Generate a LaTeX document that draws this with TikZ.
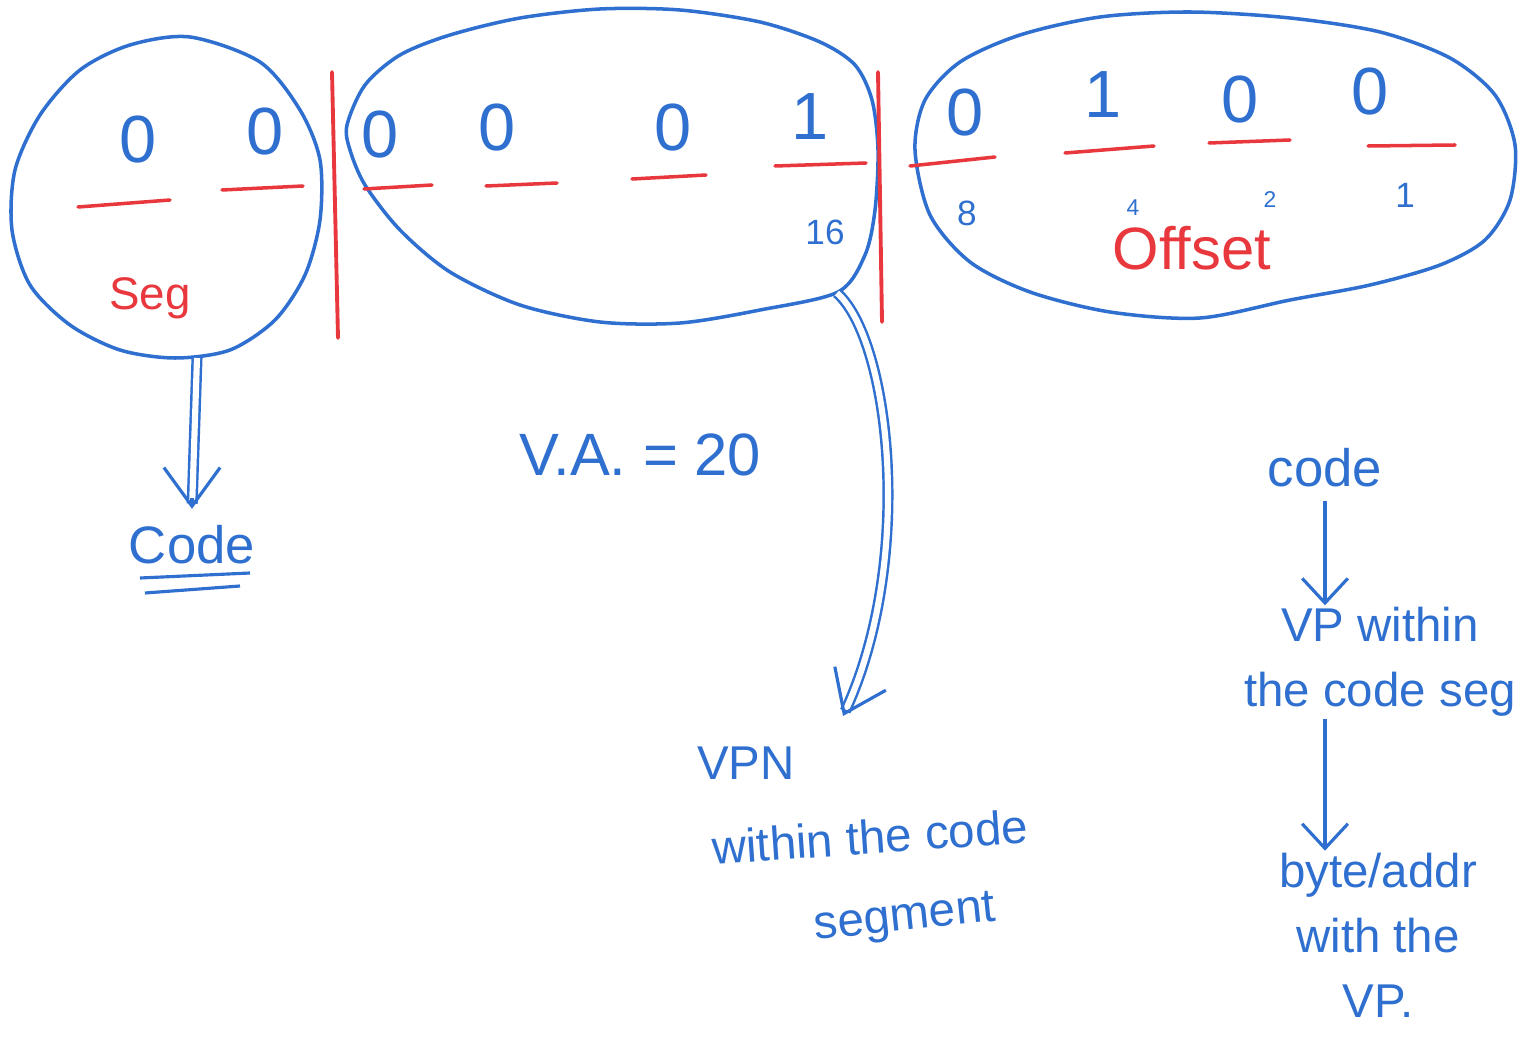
\documentclass[tikz,border=0pt]{standalone}
\usepackage{fontspec}
\setmainfont{Liberation Sans}
\usepackage{xcolor}
\usepackage{tikz}
\usetikzlibrary{calc, positioning, arrows.meta}
\definecolor{penblue}{HTML}{2E6FCF}
\definecolor{penred}{HTML}{E8383D}
\newcommand{\fsBit}{\fontsize{38}{44}\selectfont}
\newcommand{\fsBig}{\fontsize{34}{40}\selectfont}
\newcommand{\fsNote}{\fontsize{27}{37}\selectfont}
\newcommand{\fsLbl}{\fontsize{20}{24}\selectfont}
\newcommand{\fsTiny}{\fontsize{13}{15}\selectfont}

\begin{document}
\begin{tikzpicture}[x=0.02cm, y=-0.02cm,
    blob/.style={penblue, line width=2pt},
    blank/.style={penred, line width=2pt, line cap=round},
    divider/.style={penred, line width=2.2pt, line cap=round},
    digit/.style={font=\fsBit, text=penblue},
    note/.style={font=\fsNote, text=penblue, align=center, inner sep=1pt},
    dblline/.style={penblue, double=white, double distance=3.5pt, line width=1.4pt,
      shorten >=3pt},
    bigtip/.style={penblue, line width=1.8pt, -{Straight Barb[length=22pt, width=32pt]}},
    onearrow/.style={penblue, line width=1.8pt, -{Straight Barb[length=14pt, width=26pt]}}]
  \useasboundingbox (0,0) rectangle (1527,1057);
  % segment / page / offset groups
  \draw[blob] plot[smooth cycle] coordinates {(190,37) (130,45) (80,70) (40,115) (15,170)
    (12,230) (30,285) (70,325) (120,350) (175,358) (230,350) (275,320) (305,275) (320,220)
    (320,160) (300,110) (260,62)};
  \draw[blob] plot[smooth cycle] coordinates {(347,125) (365,85) (400,55) (450,35) (520,18)
    (600,9) (680,10) (760,22) (820,42) (855,65) (872,100) (878,150) (875,210) (865,255)
    (838,292) (760,310) (680,323) (600,322) (520,305) (450,272) (400,230) (365,185) (350,150)};
  \draw[blob] plot[smooth cycle] coordinates {(915,150) (925,100) (960,62) (1020,35) (1100,17)
    (1190,12) (1290,18) (1380,32) (1450,58) (1495,95) (1515,145) (1510,200) (1485,240)
    (1440,265) (1370,285) (1290,300) (1200,318) (1110,312) (1030,292) (970,262) (930,215)};
  \draw[divider] (332,72) -- (338,338);
  \draw[divider] (878,72) -- (882,322);
  \foreach \xa/\ya/\xb/\yb in {78/207/170/200, 222/190/303/186, 364/189/432/185, 486/186/557/183,
      632/179/706/175, 775/166/866/163, 910/166/995/157, 1065/153/1154/146, 1209/143/1290/140,
      1368/146/1455/145}
    \draw[blank] (\xa,\ya) -- (\xb,\yb);
  \foreach \x/\y/\d [count=\i] in {138/140/0, 265/132/0, 380/135/0, 497/128/0, 673/128/0,
      810/117/1, 965/113/0, 1103/95/1, 1240/100/0, 1370/92/0}
    \node[digit] (bit\i) at (\x,\y) {\d};
  \node[font=\fsLbl, text=penblue] (w16) at (825,232) {16};
  \node[font=\fsLbl, text=penblue] (w8) at (967,213) {8};
  \node[font=\fsTiny, text=penblue] (w4) at (1133,208) {4};
  \node[font=\fsTiny, text=penblue] (w2) at (1270,200) {2};
  \node[font=\fsLbl, text=penblue] (w1) at (1405,195) {1};
  \node[font=\fontsize{26}{30}\selectfont, text=penred] (seg) at (150,298) {Seg};
  \node[font=\fontsize{34}{38}\selectfont, text=penred] (offset) at (1192,248) {Offset};
  % what each group names
  \coordinate (segbot) at (197,358);
  \coordinate (pagebot) at (837,293);
  \coordinate (vpntip) at (843,716);
  \node[font=\fontsize{30}{34}\selectfont, text=penblue] (code) at (192,545) {Code};
  \draw[penblue, line width=1.8pt] (140,578) -- (250,573);
  \draw[penblue, line width=1.8pt] (145,593) -- (240,586);
  \draw[dblline] (segbot) -- ([yshift=6pt]code.north);
  \draw[bigtip] ([yshift=12pt]code.north) -- ([yshift=6pt]code.north);
  \draw[dblline] (pagebot) .. controls (890,340) and (915,560) .. (vpntip);
  \draw[bigtip] ($(vpntip)!0.04!(915,560)$) -- (vpntip);
  \node[font=\fsBig, text=penblue] (va) at (640,455) {V.A. = 20};
  \node[note, anchor=west] (vpn) at (695,763) {VPN};
  \node[note, anchor=west, rotate=4] (vpnwithin) at (710,848) {within the code};
  \node[note, rotate=6] (vpnseg) at (905,920) {segment};
  % right hand chain
  \node[font=\fontsize{30}{34}\selectfont, text=penblue] (codeR) at (1325,468) {code};
  \node[note] (vpR) at (1380,662) {VP within\\the code seg};
  \node[note] (byteR) at (1378,935) {byte/addr\\with the\\VP.};
  \draw[onearrow] ([yshift=-4pt]codeR.south) -- (codeR.south |- vpR.north);
  \draw[onearrow] (codeR.south |- vpR.south) -- (codeR.south |- byteR.north);
\end{tikzpicture}
\end{document}
